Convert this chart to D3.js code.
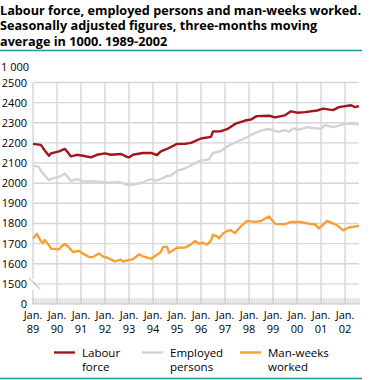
<!DOCTYPE html>
<html>
<head>
<meta charset="utf-8">
<script src="https://cdn.jsdelivr.net/npm/d3@7"></script>
<style>
  body { margin: 0; background: #fff; }
  svg { display: block; font-family: "Open Sans", sans-serif; }
  .grid { stroke: #d6d6d6; stroke-width: 1.4; }
  .series { fill: none; stroke-width: 2.4; stroke-linejoin: round; }
</style>
</head>
<body>
<svg id="chart" width="371" height="380"></svg>
<script>
// Constants and initializations
const plotLeft = 33, plotRight = 359, plotTop = 82.5, plotBottom = 304;
const svg = d3.select("#chart");
const parseMonth = d3.timeParse("%Y-%m");

const titleLines = [
    "Labour force, employed persons and man-weeks worked.",
    "Seasonally adjusted figures, three-months moving",
    "average in 1000. 1989-2002"
];
const yTicks = [1500, 1600, 1700, 1800, 1900, 2000, 2100, 2200, 2300, 2400, 2500];
const xYears = ["89", "90", "91", "92", "93", "94", "95", "96", "97", "98", "99", "00", "01", "02"];

// values (month, 1000 persons)
const labourForce = [
    ["1989-01", 2195], ["1989-05", 2190], ["1989-07", 2161], ["1989-09", 2136], ["1989-10", 2148],
    ["1990-02", 2158], ["1990-05", 2170], ["1990-06", 2158], ["1990-08", 2133], ["1990-11", 2141],
    ["1991-02", 2136], ["1991-06", 2128], ["1991-09", 2141], ["1992-01", 2148], ["1992-04", 2141],
    ["1992-09", 2145], ["1992-12", 2131], ["1993-01", 2128], ["1993-03", 2141], ["1993-08", 2150],
    ["1993-12", 2150], ["1994-03", 2140], ["1994-05", 2158], ["1994-08", 2170], ["1995-01", 2195],
    ["1995-05", 2195], ["1995-08", 2200], ["1996-01", 2222], ["1996-06", 2230], ["1996-07", 2257],
    ["1996-11", 2258], ["1997-02", 2268], ["1997-06", 2294], ["1997-11", 2311], ["1998-02", 2316],
    ["1998-04", 2328], ["1998-05", 2333], ["1998-11", 2335], ["1999-02", 2327], ["1999-07", 2337],
    ["1999-10", 2357], ["2000-01", 2350], ["2000-05", 2353], ["2000-11", 2361], ["2001-02", 2370],
    ["2001-07", 2363], ["2001-10", 2378], ["2002-04", 2387], ["2002-06", 2378], ["2002-08", 2383]
];
const employedPersons = [
    ["1989-01", 2086], ["1989-04", 2081], ["1989-05", 2061], ["1989-09", 2015], ["1989-11", 2025],
    ["1990-02", 2031], ["1990-05", 2048], ["1990-08", 2011], ["1990-11", 2020], ["1991-02", 2008],
    ["1991-09", 2008], ["1992-04", 2003], ["1992-08", 2006], ["1992-12", 1991], ["1993-03", 1993],
    ["1993-08", 2003], ["1993-10", 2015], ["1994-01", 2020], ["1994-02", 2011], ["1994-05", 2020],
    ["1994-08", 2036], ["1994-10", 2038], ["1995-01", 2061], ["1995-05", 2073], ["1995-06", 2078],
    ["1995-11", 2103], ["1995-12", 2111], ["1996-05", 2118], ["1996-07", 2150], ["1996-11", 2160],
    ["1997-02", 2182], ["1997-07", 2206], ["1997-12", 2228], ["1998-03", 2245], ["1998-07", 2261],
    ["1998-10", 2268], ["1998-12", 2266], ["1999-04", 2255], ["1999-07", 2264], ["1999-09", 2255],
    ["1999-11", 2272], ["2000-02", 2266], ["2000-06", 2278], ["2000-10", 2273], ["2001-01", 2270],
    ["2001-03", 2288], ["2001-07", 2278], ["2001-10", 2286], ["2002-01", 2295], ["2002-04", 2295],
    ["2002-08", 2293]
];
const manWeeks = [
    ["1989-01", 1725], ["1989-03", 1748], ["1989-05", 1712], ["1989-06", 1703], ["1989-07", 1718],
    ["1989-09", 1691], ["1989-10", 1675], ["1990-02", 1671], ["1990-03", 1683], ["1990-05", 1698],
    ["1990-06", 1691], ["1990-09", 1658], ["1990-12", 1664], ["1991-02", 1650], ["1991-05", 1634],
    ["1991-07", 1633], ["1991-10", 1651], ["1991-12", 1636], ["1992-02", 1630], ["1992-06", 1612],
    ["1992-09", 1620], ["1992-10", 1611], ["1993-03", 1623], ["1993-06", 1646], ["1993-08", 1637],
    ["1993-12", 1625], ["1994-03", 1645], ["1994-05", 1658], ["1994-06", 1683], ["1994-08", 1685],
    ["1994-09", 1654], ["1994-11", 1667], ["1995-01", 1679], ["1995-05", 1680], ["1995-08", 1696],
    ["1995-10", 1713], ["1995-12", 1700], ["1996-02", 1704], ["1996-04", 1695], ["1996-06", 1715],
    ["1996-07", 1743], ["1996-09", 1736], ["1996-10", 1725], ["1996-12", 1750], ["1997-02", 1763],
    ["1997-04", 1766], ["1997-06", 1752], ["1997-09", 1787], ["1997-12", 1813], ["1998-04", 1808],
    ["1998-07", 1812], ["1998-11", 1835], ["1999-02", 1798], ["1999-07", 1796], ["1999-10", 1808],
    ["2000-03", 1807], ["2000-08", 1797], ["2000-10", 1795], ["2000-12", 1775], ["2001-04", 1813],
    ["2001-07", 1800], ["2001-09", 1791], ["2001-12", 1766], ["2002-03", 1780], ["2002-08", 1788]
];

const seriesList = [
    { name: ["Labour", "force"], data: labourForce, color: "#a3151b", lx: 54 },
    { name: ["Employed", "persons"], data: employedPersons, color: "#d3d3d3", lx: 142 },
    { name: ["Man-weeks", "worked"], data: manWeeks, color: "#f7a035", lx: 240 }
];

// Scales (the axis is broken: the "0" sits where 1400 would be)
const x = d3.scaleTime()
    .domain([parseMonth("1989-01"), parseMonth("2002-08")])
    .range([plotLeft, plotRight]);
const y = d3.scaleLinear()
    .domain([1400, 2500])
    .range([plotBottom, plotTop]);

// Title and rules
const titles = svg.selectAll(".title").data(titleLines).enter().append("text")
    .attr("class", "title")
    .attr("x", 0)
    .attr("y", (d, i) => 15 + i * 15.3)
    .attr("font-size", "13px")
    .attr("font-weight", "bold")
    .attr("fill", "#000")
    .text(d => d);
// squeeze the title so the first line ends where the reference's does
const firstLen = titles.node().getComputedTextLength();
const squeeze = Math.min(1, 361 / firstLen);
titles.each(function() {
    const len = this.getComputedTextLength();
    d3.select(this).attr("textLength", len * squeeze).attr("lengthAdjust", "spacingAndGlyphs");
});

svg.append("line").attr("x1", 0).attr("x2", 362).attr("y1", 50.5).attr("y2", 50.5)
    .attr("stroke", "#1f9a9a").attr("stroke-width", 1.5);
svg.append("line").attr("x1", 0).attr("x2", 362).attr("y1", 378.5).attr("y2", 378.5)
    .attr("stroke", "#1f9a9a").attr("stroke-width", 1.5);

svg.append("text").attr("x", 1).attr("y", 71)
    .attr("font-size", "11px").attr("fill", "#000").text("1 000");

// Horizontal grid + y labels
yTicks.forEach(t => {
    svg.append("line").attr("class", "grid")
        .attr("x1", plotLeft).attr("x2", plotRight)
        .attr("y1", y(t)).attr("y2", y(t));
    svg.append("text")
        .attr("x", 27).attr("y", y(t) + 4)
        .attr("text-anchor", "end")
        .attr("font-size", "11px")
        .text(t);
});
svg.append("text").attr("x", 27).attr("y", plotBottom + 4)
    .attr("text-anchor", "end").attr("font-size", "11px").text("0");

// Vertical grid + x labels
xYears.forEach((yr, i) => {
    const xx = x(new Date(1989 + i, 0, 1));
    if (i > 0) {
        svg.append("line").attr("class", "grid")
            .attr("x1", xx).attr("x2", xx).attr("y1", plotTop).attr("y2", plotBottom);
    }
    svg.append("text").attr("x", xx).attr("y", 319)
        .attr("text-anchor", "middle").attr("font-size", "11px").text("Jan.");
    svg.append("text").attr("x", xx).attr("y", 333)
        .attr("text-anchor", "middle").attr("font-size", "11px").text(yr);
});

// Left axis line with break marks
svg.append("line").attr("class", "grid")
    .attr("x1", plotLeft).attr("x2", plotLeft).attr("y1", plotTop).attr("y2", 279);
svg.append("line").attr("class", "grid")
    .attr("x1", plotLeft).attr("x2", plotLeft).attr("y1", 290).attr("y2", plotBottom);
[0, 4].forEach(off => {
    svg.append("line")
        .attr("x1", 29 + off).attr("y1", 278 + off)
        .attr("x2", 36 + off).attr("y2", 285 + off)
        .attr("stroke", "#c8c8c8").attr("stroke-width", 1.2);
});

// Monthly ticks along the bottom
svg.selectAll(".mtick").data(d3.timeMonth.range(x.domain()[0], d3.timeMonth.offset(x.domain()[1], 1)))
    .enter().append("line")
    .attr("class", "mtick")
    .attr("x1", d => x(d)).attr("x2", d => x(d))
    .attr("y1", plotBottom - 6).attr("y2", plotBottom)
    .attr("stroke", "#c4c4c4").attr("stroke-width", 0.8);
svg.append("line")
    .attr("x1", plotLeft).attr("x2", plotRight).attr("y1", plotBottom).attr("y2", plotBottom)
    .attr("stroke", "#c4c4c4").attr("stroke-width", 1.2);

// Lines
const lineGenerator = d3.line()
    .x(d => x(parseMonth(d[0])))
    .y(d => y(d[1]));

seriesList.forEach(s => {
    svg.append("path")
        .attr("class", "series")
        .attr("d", lineGenerator(s.data))
        .attr("stroke", s.color);
});

// Legend
seriesList.forEach(s => {
    svg.append("line")
        .attr("x1", s.lx).attr("x2", s.lx + 21)
        .attr("y1", 352.5).attr("y2", 352.5)
        .attr("stroke", s.color).attr("stroke-width", 2.4);
    s.name.forEach((part, i) => {
        svg.append("text")
            .attr("x", s.lx + 28).attr("y", 356.5 + i * 14.5)
            .attr("font-size", "11.5px")
            .text(part);
    });
});
</script>
</body>
</html>
